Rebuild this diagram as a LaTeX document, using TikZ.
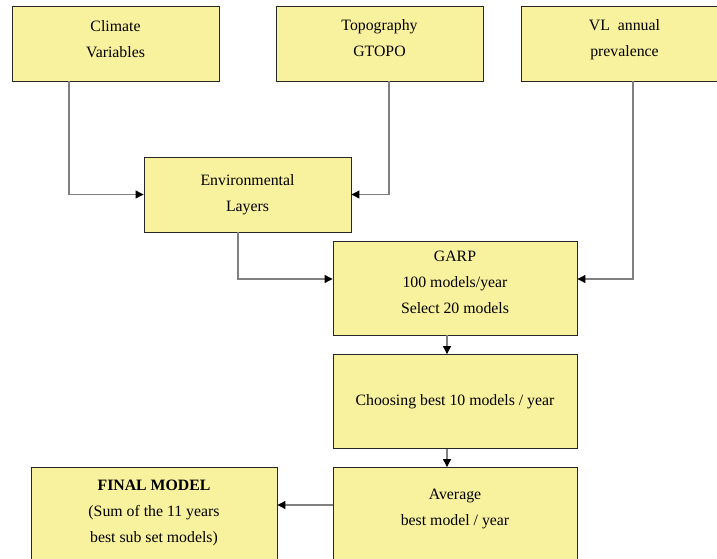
\documentclass[tikz,border=0pt]{standalone}
\usepackage{fontspec}
\setmainfont{Liberation Serif}
\usepackage{tikz}
\usetikzlibrary{arrows.meta}
\definecolor{boxfill}{RGB}{248,241,158}
\definecolor{linkgray}{RGB}{128,128,128}

\begin{document}
\begin{tikzpicture}
[x=1pt,y=-1pt,
 box/.style={draw=black!85,fill=boxfill,line width=0.9pt,minimum width=207pt,minimum height=75pt,
   align=center,inner sep=0pt,font=\fontsize{15.8}{26}\selectfont},
 bigbox/.style={box,minimum width=244pt,minimum height=94pt},
 link/.style={draw=linkgray,line width=1.1pt,-{Triangle[black,length=8pt,width=8pt]}}]
\useasboundingbox (0,0) rectangle (717,559);
\clip (0,0) rectangle (717,559);
% top row
\node[box,text depth=9.5pt] (clim) at (115.5,43.5) {Climate\\Variables};
\node[box,text depth=10.5pt] (topo) at (379.5,43.5) {Topography\\GTOPO};
\node[box,text depth=10.5pt] (vl) at (624.5,43.5) {VL~~annual\\prevalence};
\node[box] (env) at (247.5,194.5) {Environmental\\Layers};
% right column
\node[bigbox,text depth=11pt] (garp) at (455,288) {GARP\\100 models/year\\Select 20 models};
\node[bigbox] (choose) at (455,401.5) {Choosing best 10 models / year};
\node[bigbox,text depth=15pt] (avg) at (455,514.5) {Average\\best model / year};
\node[bigbox,minimum width=246pt,text depth=7pt] (final) at (154,514.5) {\textbf{FINAL MODEL}\\(Sum of the 11 years\\best sub set models)};
% links
\draw[link] ([xshift=-46.5pt]clim.south) |- (env.west);
\draw[link] ([xshift=9.5pt]topo.south) |- (env.east);
\draw[link] ([xshift=8.5pt]vl.south) |- ([yshift=9pt]garp.east);
\draw[link] ([xshift=-9.5pt]env.south) |- ([yshift=9pt]garp.west);
\draw[link] ([xshift=-8pt]garp.south) -- ([xshift=-8pt]choose.north);
\draw[link] ([xshift=-8pt]choose.south) -- ([xshift=-8pt]avg.north);
\draw[link] ([yshift=9.5pt]avg.west) -- ([yshift=9.5pt]final.east);
\end{tikzpicture}
\end{document}
